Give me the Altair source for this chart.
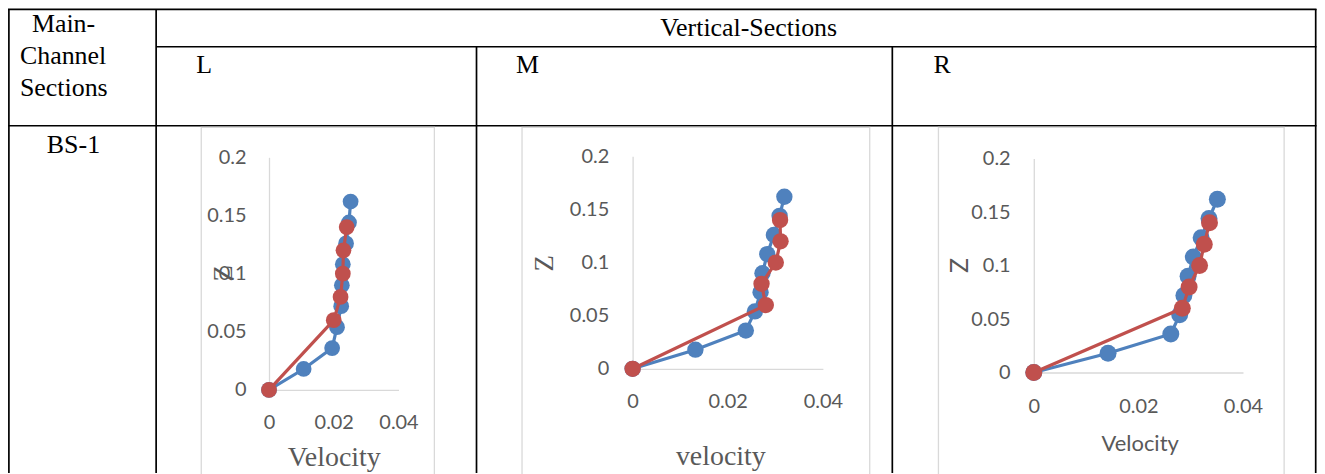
import altair as alt
import pandas as pd

# ---------------- data ----------------
z_blue = [0, 0.018, 0.036, 0.054, 0.072, 0.09, 0.108, 0.126, 0.144, 0.162]
z_red = [0, 0.06, 0.08, 0.10, 0.12, 0.14]

vel_blue_L = [0, 0.0107, 0.0195, 0.0210, 0.0223, 0.0225, 0.0228, 0.0238, 0.0247, 0.0252]
vel_red_L = [0, 0.0200, 0.0221, 0.0228, 0.0230, 0.0240]
vel_blue_M = [0, 0.0132, 0.0238, 0.0257, 0.0269, 0.0273, 0.0283, 0.0297, 0.0309, 0.0319]
vel_red_M = [0, 0.0280, 0.0271, 0.0301, 0.0311, 0.0310]
vel_blue_R = [0, 0.0142, 0.0262, 0.0279, 0.0287, 0.0295, 0.0305, 0.0320, 0.0335, 0.0351]
vel_red_R = [0, 0.0284, 0.0297, 0.0317, 0.0326, 0.0336]

x_ticks = [0, 0.02, 0.04]
z_ticks = [0, 0.05, 0.1, 0.15, 0.2]

header_main = ["Main-", "Channel", "Sections"]
header_top = "Vertical-Sections"
header_cols = ["L", "M", "R"]
row_names = ["BS-1"]
x_titles = ["Velocity", "velocity", "Velocity"]
z_title = "Z"

# ---------------- styles ----------------
BLUE = "#4F81BD"
RED = "#C0504D"
GRIDC = "#D9D9D9"
LABELC = "#595959"
SERIF = "Liberation Serif"
SANS = "Lato"
W, H = 1314, 466

one = pd.DataFrame({"k": [0]})


def rule(x, x2, y, y2, color="black", w=1.7):
    return alt.Chart(one).mark_rule(color=color, strokeWidth=w).encode(
        x=alt.value(x), x2=alt.value(x2), y=alt.value(y), y2=alt.value(y2)
    )


def box(x, x2, y, y2):
    return alt.Chart(one).mark_rect(fillOpacity=0, stroke=GRIDC, strokeWidth=1.3).encode(
        x=alt.value(x), x2=alt.value(x2), y=alt.value(y), y2=alt.value(y2)
    )


def label(txt, x, y, align="left", size=26):
    return alt.Chart(one).mark_text(
        text=txt, font=SERIF, fontSize=size, color="black", align=align, baseline="alphabetic"
    ).encode(x=alt.value(x), y=alt.value(y))


def panel(vb, vr, xrange, yrange, xtitle, xt_font, xt_size, xt_x, xt_y,
          zt_font, zt_size, zt_x, zt_y, ypad, xpad, msize):
    yaxis_x = xrange[0]
    xaxis_y = yrange[0]
    xs = alt.Scale(domain=[0, 0.04], range=xrange, nice=False, zero=False)
    ys = alt.Scale(domain=[0, 0.2], range=yrange, nice=False, zero=False)
    xax = alt.Axis(
        orient="bottom", offset=xaxis_y - H, values=x_ticks, format="~g",
        grid=False, ticks=False, domainColor=GRIDC, domainWidth=1.3,
        labelFont=SANS, labelFontSize=20, labelColor=LABELC, labelPadding=xpad,
        labelBaseline="middle", labelFlush=False, labelOverlap=False, labelBound=False,
        title=xtitle, titleFont=xt_font, titleFontSize=xt_size, titleColor=LABELC,
        titleFontWeight="normal", titleX=xt_x, titleY=xt_y - xaxis_y,
        titleAlign="center", titleBaseline="alphabetic",
    )
    yax = alt.Axis(
        orient="left", offset=-yaxis_x, values=z_ticks, format="~g",
        grid=False, ticks=False, domainColor=GRIDC, domainWidth=1.3,
        labelFont=SANS, labelFontSize=20, labelColor=LABELC, labelPadding=ypad,
        labelOverlap=False, labelBound=False, labelFlush=False,
        title=z_title, titleFont=zt_font, titleFontSize=zt_size, titleColor=LABELC,
        titleFontWeight="normal", titleAngle=270, titleX=zt_x - yaxis_x, titleY=zt_y,
        titleAlign="center", titleBaseline="middle",
    )
    layers = []
    for vals, zs, col in ((vb, z_blue, BLUE), (vr, z_red, RED)):
        df = pd.DataFrame({"v": vals, "z": zs})
        base = alt.Chart(df).encode(
            x=alt.X("v:Q", scale=xs, axis=xax),
            y=alt.Y("z:Q", scale=ys, axis=yax),
            order=alt.Order("z:Q"),
        )
        layers.append(base.mark_line(color=col, strokeWidth=3.2))
        layers.append(base.mark_circle(color=col, size=msize, opacity=1))
    return alt.layer(*layers)


deco = [
    # table borders (black)
    rule(0, 1313.5, 0.4, 0.4),
    rule(148.7, 1313.5, 38, 38),
    rule(0, 1313.5, 117.3, 117.3),
    rule(0.9, 0.9, 0, H),
    rule(148.7, 148.7, 0, H),
    rule(470.3, 470.3, 38, H),
    rule(887.7, 887.7, 38, H),
    rule(1312.7, 1312.7, 0, H),
    # chart area frames (light gray)
    box(194, 428, 119, H + 20),
    box(516, 865, 119, H + 20),
    box(934, 1281, 119, H + 20),
    # header texts
    label(header_main[0], 24, 22.7),
    label(header_main[1], 12, 55.3),
    label(header_main[2], 12, 87),
    label(header_top, 743.5, 27, align="center"),
    label(header_cols[0], 189, 64),
    label(header_cols[1], 510, 64),
    label(header_cols[2], 929, 64),
    label(row_names[0], 39, 144.7),
]

pL = panel(vel_blue_L, vel_red_L, [262, 392], [382.5, 149], x_titles[0], SERIF, 28, 327, 458.7,
           SERIF, 27, 216, 265, 23, 32.5, 250)
pM = panel(vel_blue_M, vel_red_M, [627, 818], [361.3, 148], x_titles[1], SERIF, 28, 715, 457,
           SERIF, 27, 539, 255, 24, 33, 270)
pR = panel(vel_blue_R, vel_red_R, [1029.7, 1239.7], [365, 150.3], x_titles[2], SANS, 22, 1136, 443.7,
           SANS, 25, 955, 257, 23.7, 34, 290)

chart = (
    alt.layer(*deco, pL, pM, pR)
    .resolve_scale(x="independent", y="independent")
    .properties(width=W, height=H, autosize="none", padding=0, background="white")
    .configure_view(strokeWidth=0)
)

chart.save("out.html", embed_options={"renderer": "svg", "actions": False})
